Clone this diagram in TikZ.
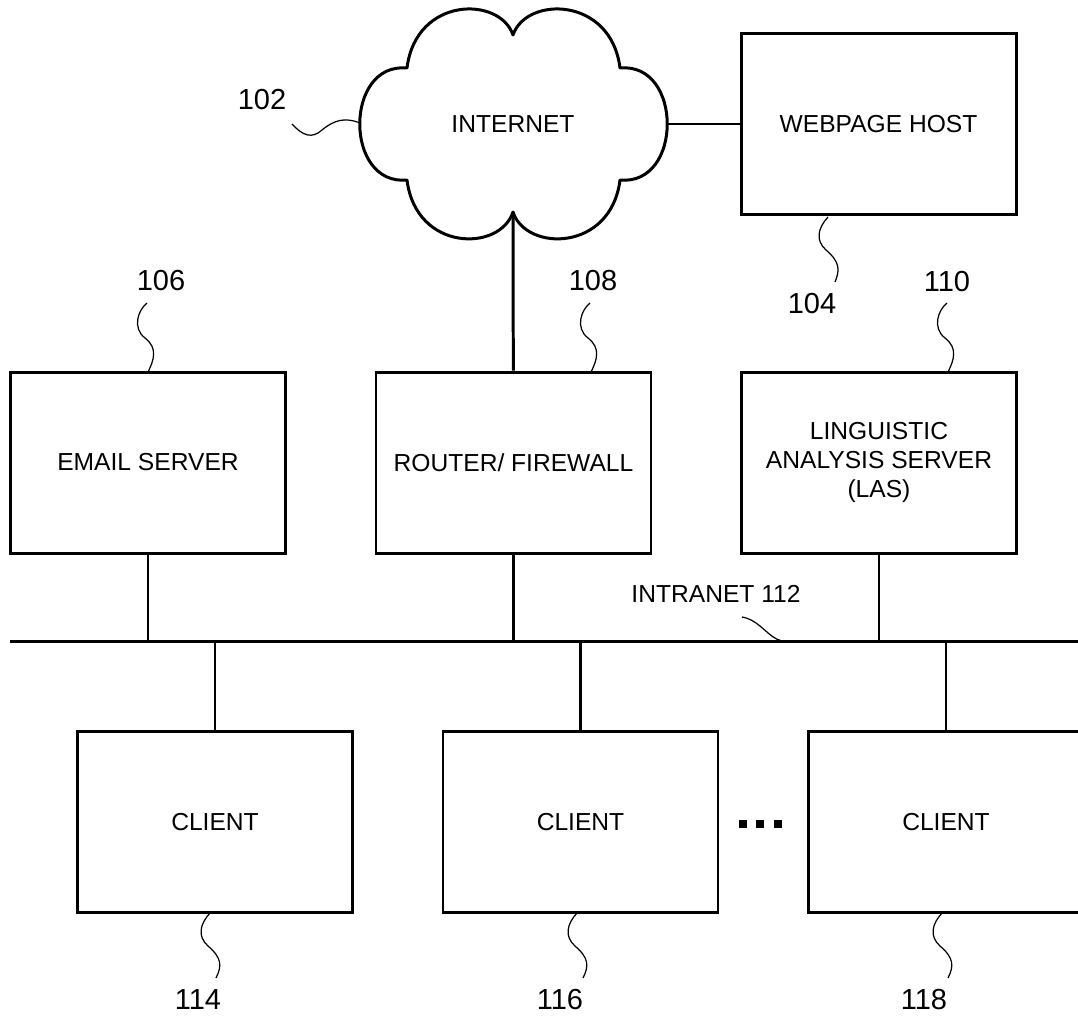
\documentclass[tikz,border=0pt]{standalone}
\usepackage{fontspec}
\setmainfont{Liberation Sans}
\usetikzlibrary{chains,positioning}

\begin{document}
\begin{tikzpicture}[x=0.2mm,y=-0.2mm]
    \tikzstyle{every path}=[line width=1.7pt]
    \edef\unitwidth{55mm}
    \edef\unitheight{36.2mm}
    \tikzstyle{unit}=[draw,minimum width=\unitwidth,minimum height=\unitheight,align=center,font=\fontsize{14}{16.5}\selectfont]
    \tikzstyle{caption}=[font=\fontsize{14}{16.5}\selectfont]
    \tikzstyle{refnum}=[font=\fontsize{16.5}{18}\selectfont]
    \tikzstyle{lead}=[line width=0.7pt]
    \tikzstyle{dot}=[fill,minimum size=1.6mm,inner sep=0pt]

    \useasboundingbox (0,0) rectangle (1078,1020);

    % the internet cloud
    \draw[line join=round] (513,35) .. controls (526,-4) and (611,-4) .. (620,68)
          .. controls (683,62) and (683,186) .. (620,180)
          .. controls (611,252) and (526,252) .. (513,212)
          .. controls (500,252) and (416,252) .. (407,180)
          .. controls (344,186) and (344,62) .. (407,68)
          .. controls (416,-4) and (500,-4) .. cycle;
    \node[caption] (internet) at (513,124) {INTERNET};
    \coordinate (cloudE) at (667,124);
    \coordinate (cloudS) at (513,212);

    \node[unit] (host) at (878.5,124) {WEBPAGE HOST};

    \begin{scope}[start chain=1 going right,node distance=17.5mm]
      \node[on chain=1,unit] (email) at (148,462.5) {EMAIL SERVER};
      \node[on chain=1,unit] (router)               {ROUTER/ FIREWALL};
      \node[on chain=1,unit] (las)                  {LINGUISTIC\\ANALYSIS SERVER\\(LAS)};
    \end{scope}

    \begin{scope}[start chain=2 going right,node distance=17.5mm]
      \node[on chain=2,unit] (client1) at (215,822) {CLIENT};
      \node[on chain=2,unit] (client2)              {CLIENT};
      \node[on chain=2,unit] (client3)              {CLIENT};
    \end{scope}

    \foreach \x in {743,760,778}
      \node[dot] (dot\x) at (\x,824) {};

    % intranet bus
    \coordinate (busW) at (10,641);
    \coordinate (busE) at (1078,641);
    \draw (busW) -- (busE);
    \draw (cloudE) -- (host.west);
    \draw (cloudS) -- (router);
    \foreach \n in {email,router,las,client1,client2,client3}
      \draw (\n) -- (\n |- busW);

    % reference numbers
    \node[refnum] (n102) at (262,100) {102};
    \node[refnum] (n104) at (812,304) {104};
    \node[refnum] (n106) at (161,281) {106};
    \node[refnum] (n108) at (593,281) {108};
    \node[refnum] (n110) at (947,282) {110};
    \node[refnum] (n114) at (198,1000) {114};
    \node[refnum] (n116) at (560,1000) {116};
    \node[refnum] (n118) at (924,1000) {118};
    \node[caption] (intranet) at (716,594) {INTRANET 112};

    % lead lines
    \draw[lead] (292,124) .. controls (303,136) and (312,139) .. (322,130)
                .. controls (334,120) and (345,117) .. (360,123);
    \draw[lead] (828,217) .. controls (818,228) and (815,240) .. (826,250)
                .. controls (840,262) and (840,270) .. (835,282);
    \draw[lead] (147,303) .. controls (138,310) and (132,328) .. (145,338)
                .. controls (158,348) and (154,360) .. (148,372);
    \draw[lead] (590,303) .. controls (581,310) and (575,328) .. (588,338)
                .. controls (601,348) and (597,360) .. (591,372);
    \draw[lead] (947,303) .. controls (938,310) and (932,328) .. (945,338)
                .. controls (958,348) and (954,360) .. (948,372);
    \draw[lead] (742,617) .. controls (760,620) and (768,638) .. (782,641);
    \draw[lead] (210,913) .. controls (200,924) and (197,936) .. (208,946)
                .. controls (222,958) and (222,966) .. (216,978);
    \draw[lead] (577,913) .. controls (567,924) and (564,936) .. (575,946)
                .. controls (589,958) and (589,966) .. (583,978);
    \draw[lead] (942,913) .. controls (932,924) and (929,936) .. (940,946)
                .. controls (954,958) and (954,966) .. (948,978);
\end{tikzpicture}
\end{document}
